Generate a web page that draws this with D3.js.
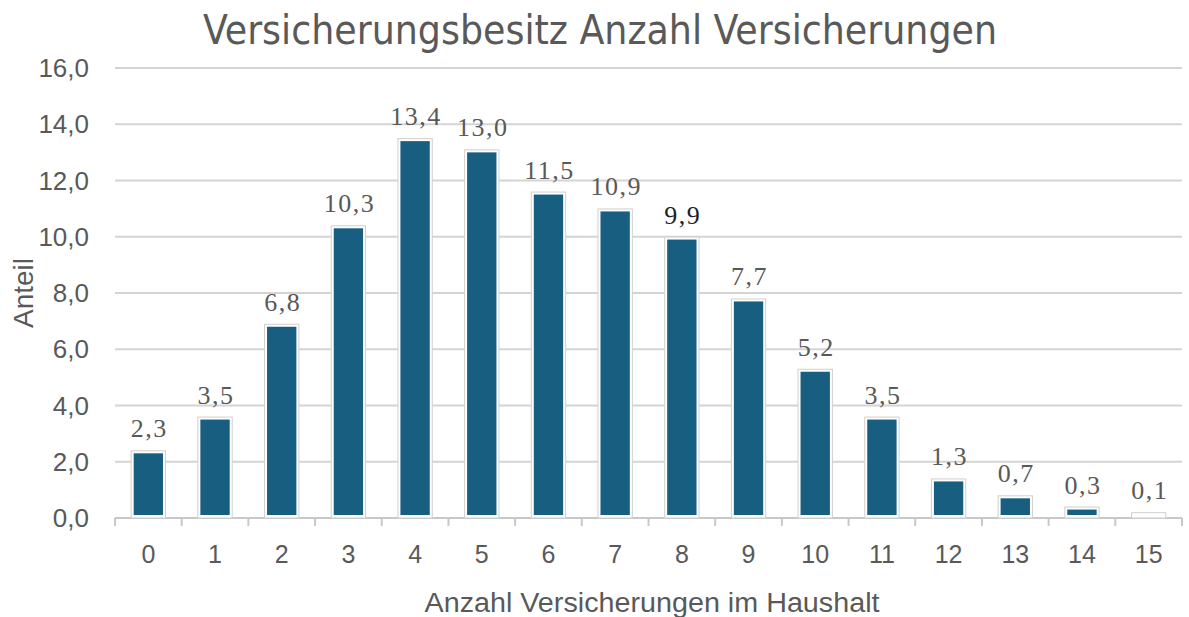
<!DOCTYPE html>
<html>
<head>
<meta charset="utf-8">
<script src="https://cdn.jsdelivr.net/npm/d3@7"></script>
<style>
  body { margin: 0; background: #fff; }
  svg text { fill: #595959; }
</style>
</head>
<body>
<div id="main"></div>
<script>
// chart data
var categories = ["0", "1", "2", "3", "4", "5", "6", "7", "8", "9", "10", "11", "12", "13", "14", "15"];
var values = [2.3, 3.5, 6.8, 10.3, 13.4, 13.0, 11.5, 10.9, 9.9, 7.7, 5.2, 3.5, 1.3, 0.7, 0.3, 0.1];
var yTicks = [0, 2, 4, 6, 8, 10, 12, 14, 16];

var width = 1189, height = 617;
var margin = { top: 68, right: 7, bottom: 99, left: 115 };
var sans = "'Liberation Sans', Arial, sans-serif";

var de = d3.formatLocale({ decimal: ",", thousands: ".", grouping: [3], currency: ["", " €"] });
var fmt = de.format(".1f");

var svg = d3.select("#main")
  .append("svg")
  .attr("width", width)
  .attr("height", height);

var x = d3.scaleBand()
  .domain(categories)
  .range([margin.left, width - margin.right])
  .paddingInner(0.5)
  .paddingOuter(0.25);

var y = d3.scaleLinear()
  .domain([0, 16])
  .range([height - margin.bottom, margin.top]);

// grid lines
svg.append("g")
  .selectAll("line")
  .data(yTicks.slice(1))
  .enter()
  .append("line")
  .attr("x1", margin.left)
  .attr("x2", width - margin.right)
  .attr("y1", function(d) { return y(d); })
  .attr("y2", function(d) { return y(d); })
  .style("stroke", "#d4d4d4")
  .style("stroke-width", 2);

// y tick labels
svg.append("g")
  .selectAll("text")
  .data(yTicks)
  .enter()
  .append("text")
  .attr("x", 89)
  .attr("y", function(d) { return y(d) + 9; })
  .style("text-anchor", "end")
  .style("font-family", sans)
  .style("font-size", "26px")
  .text(function(d) { return fmt(d); });

// x axis line with ticks between categories
var plotW = width - margin.left - margin.right;
var xAxis = svg.append("g").attr("transform", "translate(0," + y(0) + ")");
xAxis.append("line")
  .attr("x1", margin.left)
  .attr("x2", width - margin.right)
  .style("stroke", "#c8c8c8")
  .style("stroke-width", 2);
xAxis.selectAll(".tk")
  .data(d3.range(categories.length + 1))
  .enter()
  .append("line")
  .attr("class", "tk")
  .attr("x1", function(i) { return margin.left + i * plotW / categories.length; })
  .attr("x2", function(i) { return margin.left + i * plotW / categories.length; })
  .attr("y1", 0)
  .attr("y2", 8)
  .style("stroke", "#c8c8c8")
  .style("stroke-width", 2);

xAxis.selectAll("text")
  .data(categories)
  .enter()
  .append("text")
  .attr("x", function(d) { return x(d) + x.bandwidth() / 2; })
  .attr("y", 45)
  .style("text-anchor", "middle")
  .style("font-family", sans)
  .style("font-size", "25px")
  .text(function(d) { return d; });

// bars: white border with light grey outline
var bars = svg.append("g")
  .selectAll("g")
  .data(values)
  .enter()
  .append("g");

bars.append("rect")
  .attr("x", function(d, i) { return x(categories[i]) - 0.5; })
  .attr("y", function(d) { return y(d) - 2.5; })
  .attr("width", x.bandwidth() + 1)
  .attr("height", function(d) { return y(0) - y(d) + 2.5; })
  .style("fill", "#fff")
  .style("stroke", "#cfcfcf")
  .style("stroke-width", 1);

bars.append("rect")
  .attr("x", function(d, i) { return x(categories[i]) + 2; })
  .attr("y", function(d) { return y(d); })
  .attr("width", x.bandwidth() - 4)
  .attr("height", function(d) { return Math.max(0, y(0) - y(d) - 3); })
  .style("fill", "#175e81");

bars.append("text")
  .attr("x", function(d, i) { return x(categories[i]) + x.bandwidth() / 2 + 1; })
  .attr("y", function(d) { return y(d) - 16; })
  .style("text-anchor", "middle")
  .style("font-family", "'Liberation Serif', 'DejaVu Serif', serif")
  .style("font-size", "26px")
  .style("letter-spacing", "1.5px")
  .style("fill", function(d, i) { return i === 8 ? "#222" : "#595959"; })
  .text(function(d) { return fmt(d); });

// title
svg.append("text")
  .attr("x", 600)
  .attr("y", 44)
  .style("text-anchor", "middle")
  .style("font-family", "'Liberation Sans Narrow', 'DejaVu Sans Condensed', sans-serif")
  .style("font-size", "41px")
  .attr("textLength", 794)
  .attr("lengthAdjust", "spacingAndGlyphs")
  .text("Versicherungsbesitz Anzahl Versicherungen");

// axis titles
svg.append("text")
  .attr("transform", "translate(33," + ((y(0) + y(16)) / 2) + ") rotate(-90)")
  .style("text-anchor", "middle")
  .style("font-family", sans)
  .style("font-size", "28px")
  .text("Anteil");

svg.append("text")
  .attr("x", 652)
  .attr("y", 612)
  .style("text-anchor", "middle")
  .style("font-family", sans)
  .style("font-size", "27px")
  .attr("textLength", 455)
  .attr("lengthAdjust", "spacingAndGlyphs")
  .text("Anzahl Versicherungen im Haushalt");
</script>
</body>
</html>
